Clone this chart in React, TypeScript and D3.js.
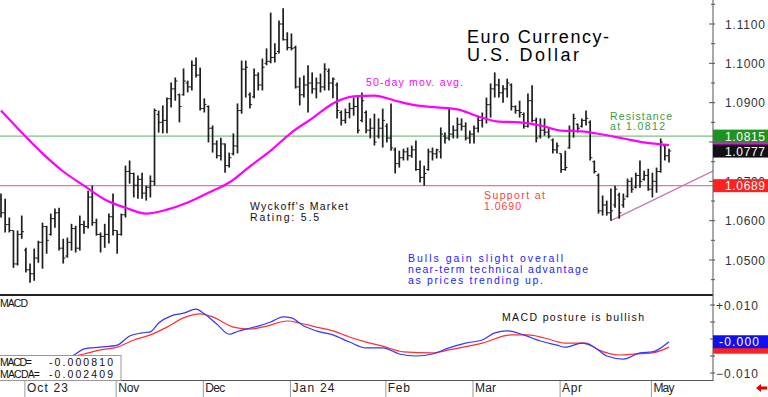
import React from "react";
import * as d3 from "d3";

// daily OHLC bars, Sep 2023 .. May 2024
const highs = [
  1.0669, 1.0656, 1.0608, 1.0575, 1.0575, 1.0613, 1.0531, 1.0491, 1.0529, 1.0549,
  1.0595, 1.0587, 1.0618, 1.0631, 1.0633, 1.0554, 1.0557, 1.0592, 1.0587, 1.0613,
  1.06, 1.0676, 1.0689, 1.0605, 1.057, 1.0592, 1.0618, 1.0669, 1.0575, 1.0618,
  1.074, 1.0753, 1.0722, 1.0715, 1.0722, 1.0689, 1.0715, 1.0885, 1.088, 1.0893,
  1.0913, 1.0951, 1.0964, 1.0923, 1.0987, 1.0956, 1.1007, 1.1015, 1.0989, 1.0911,
  1.0893, 1.0842, 1.0804, 1.0811, 1.0796, 1.0773, 1.0822, 1.0898, 1.1007, 1.1007,
  1.0926, 1.0987, 1.0977, 1.1012, 1.1038, 1.1129, 1.1051, 1.1109, 1.114, 1.1079,
  1.1076, 1.1045, 1.0964, 1.0969, 1.0995, 1.0977, 1.0964, 1.0974, 1.1, 1.0987,
  1.0964, 1.0951, 1.088, 1.0885, 1.09, 1.0913, 1.0918, 1.0926, 1.088, 1.086,
  1.0872, 1.086, 1.0885, 1.0847, 1.0898, 1.0786, 1.0778, 1.0783, 1.0786, 1.0791,
  1.0804, 1.0753, 1.074, 1.0783, 1.0786, 1.0783, 1.0837, 1.0824, 1.0888, 1.0842,
  1.0862, 1.086, 1.085, 1.0829, 1.0842, 1.0867, 1.0875, 1.0913, 1.0949, 1.0977,
  1.0961, 1.0944, 1.0961, 1.0949, 1.0893, 1.0905, 1.0875, 1.0923, 1.0944, 1.0862,
  1.086, 1.086, 1.0837, 1.0809, 1.0799, 1.0771, 1.0778, 1.0842, 1.0872, 1.0847,
  1.086, 1.088, 1.0855, 1.0753, 1.072, 1.0664, 1.0651, 1.0682, 1.0689, 1.0671,
  1.0669, 1.0707, 1.071, 1.0722, 1.0753, 1.0727, 1.0732, 1.0722, 1.0735, 1.0809,
  1.0791, 1.0783,
];
const lows = [
  1.0608, 1.057, 1.057, 1.048, 1.0486, 1.0554, 1.0468, 1.0442, 1.0447, 1.0493,
  1.0478, 1.0516, 1.0562, 1.0582, 1.0524, 1.0491, 1.0506, 1.0524, 1.0519, 1.0524,
  1.0567, 1.058, 1.0587, 1.0562, 1.0519, 1.0531, 1.0542, 1.0562, 1.0516, 1.0562,
  1.0608, 1.0694, 1.0659, 1.0656, 1.0656, 1.0651, 1.0659, 1.0689, 1.0824, 1.0822,
  1.0822, 1.0888, 1.0905, 1.085, 1.0918, 1.0926, 1.0931, 1.0964, 1.088, 1.0875,
  1.0799, 1.0773, 1.0758, 1.0753, 1.0722, 1.0735, 1.0766, 1.0771, 1.0872, 1.0913,
  1.0885, 1.0911, 1.0931, 1.0931, 1.0995, 1.1, 1.1002, 1.1025, 1.1058, 1.1033,
  1.1033, 1.0936, 1.0893, 1.0913, 1.0875, 1.0923, 1.0911, 1.0926, 1.0931, 1.0931,
  1.0911, 1.086, 1.0842, 1.0847, 1.086, 1.0867, 1.0822, 1.085, 1.0822, 1.0809,
  1.0791, 1.0809, 1.0786, 1.0799, 1.0778, 1.072, 1.0735, 1.0753, 1.0753, 1.076,
  1.0727, 1.0697, 1.0689, 1.0727, 1.0753, 1.0758, 1.0758, 1.0796, 1.0804, 1.0809,
  1.0809, 1.0829, 1.0804, 1.0796, 1.0796, 1.0824, 1.0837, 1.0847, 1.0862, 1.0913,
  1.0913, 1.09, 1.0913, 1.088, 1.0872, 1.0862, 1.0834, 1.0837, 1.085, 1.0799,
  1.0809, 1.0816, 1.0809, 1.0771, 1.0771, 1.0722, 1.0727, 1.0783, 1.0811, 1.0824,
  1.0837, 1.0842, 1.0753, 1.072, 1.0618, 1.0613, 1.0613, 1.06, 1.0633, 1.0605,
  1.0633, 1.0659, 1.0671, 1.0682, 1.0684, 1.0702, 1.0676, 1.0659, 1.0671, 1.0722,
  1.0753, 1.0748,
];
const opens = [
  1.0655, 1.062, 1.059, 1.0575, 1.049, 1.0565, 1.0525, 1.0475, 1.0465, 1.0505,
  1.0545, 1.0585, 1.0565, 1.0605, 1.062, 1.053, 1.051, 1.0545, 1.058, 1.053,
  1.059, 1.0585, 1.066, 1.0595, 1.0565, 1.056, 1.0565, 1.061, 1.0575, 1.0565,
  1.0615, 1.0725, 1.072, 1.069, 1.0705, 1.067, 1.0685, 1.07, 1.087, 1.085,
  1.0855, 1.091, 1.0935, 1.092, 1.092, 1.095, 1.094, 1.0995, 1.097, 1.0885,
  1.089, 1.0835, 1.0795, 1.0765, 1.0795, 1.074, 1.077, 1.079, 1.088, 1.0985,
  1.092, 1.0915, 1.097, 1.0945, 1.1, 1.1005, 1.1015, 1.103, 1.11, 1.106,
  1.104, 1.104, 1.094, 1.092, 1.0945, 1.095, 1.0935, 1.095, 1.094, 1.098,
  1.095, 1.0945, 1.0875, 1.0855, 1.0875, 1.0885, 1.089, 1.0855, 1.0875, 1.083,
  1.0835, 1.0815, 1.0835, 1.084, 1.081, 1.078, 1.0745, 1.076, 1.0775, 1.0765,
  1.078, 1.073, 1.071, 1.073, 1.0775, 1.077, 1.0775, 1.0815, 1.081, 1.082,
  1.083, 1.0845, 1.084, 1.081, 1.082, 1.0835, 1.0855, 1.086, 1.0895, 1.0935,
  1.0945, 1.0925, 1.0935, 1.0945, 1.089, 1.088, 1.087, 1.084, 1.0905, 1.0855,
  1.0815, 1.083, 1.0825, 1.0805, 1.078, 1.0771, 1.073, 1.0785, 1.083, 1.0845,
  1.084, 1.0855, 1.085, 1.075, 1.0715, 1.0625, 1.064, 1.062, 1.064, 1.0665,
  1.064, 1.0662, 1.07, 1.0685, 1.0715, 1.0705, 1.0715, 1.068, 1.07, 1.0725,
  1.079, 1.0765,
];
const closes = [
  1.062, 1.059, 1.0575, 1.049, 1.0565, 1.0572, 1.0475, 1.0465, 1.0505, 1.0545,
  1.0585, 1.055, 1.0605, 1.062, 1.053, 1.0505, 1.0545, 1.058, 1.053, 1.059,
  1.0585, 1.066, 1.0595, 1.0565, 1.056, 1.0565, 1.061, 1.0575, 1.0565, 1.0615,
  1.0725, 1.072, 1.069, 1.0705, 1.067, 1.0685, 1.07, 1.088, 1.085, 1.0855,
  1.091, 1.0935, 1.0955, 1.089, 1.0955, 1.094, 1.0995, 1.097, 1.0885, 1.0895,
  1.0835, 1.0795, 1.0765, 1.0795, 1.074, 1.076, 1.079, 1.088, 1.0985, 1.099,
  1.0895, 1.097, 1.0945, 1.099, 1.1005, 1.1015, 1.1025, 1.11, 1.106, 1.104,
  1.1038, 1.094, 1.092, 1.0945, 1.095, 1.0935, 1.095, 1.094, 1.0985, 1.095,
  1.096, 1.088, 1.0855, 1.0875, 1.0885, 1.089, 1.083, 1.0905, 1.083, 1.0835,
  1.08, 1.0835, 1.0855, 1.081, 1.0785, 1.0745, 1.076, 1.0775, 1.0765, 1.078,
  1.073, 1.071, 1.072, 1.0775, 1.077, 1.078, 1.082, 1.081, 1.082, 1.083,
  1.0845, 1.084, 1.081, 1.082, 1.0835, 1.0855, 1.086, 1.0895, 1.0935, 1.0945,
  1.0925, 1.0935, 1.095, 1.089, 1.088, 1.0875, 1.084, 1.0905, 1.0855, 1.081,
  1.083, 1.0825, 1.0815, 1.078, 1.079, 1.073, 1.0735, 1.083, 1.086, 1.0835,
  1.0855, 1.086, 1.076, 1.0725, 1.0625, 1.064, 1.062, 1.0625, 1.068, 1.062,
  1.0655, 1.07, 1.068, 1.0715, 1.07, 1.0715, 1.068, 1.07, 1.0725, 1.08,
  1.0765, 1.0777,
];

// 50-day moving average read at bar positions
const maIdx = [0, 5, 10, 15, 20, 25, 30, 35, 40, 45, 50, 55, 60, 65, 70, 75, 80, 85, 90, 95, 100, 105, 110, 115, 120, 125, 130, 135, 140, 145, 150, 155, 161];
const maVals = [1.088, 1.0824, 1.0771, 1.0725, 1.0689, 1.0654, 1.0633, 1.0618, 1.0628, 1.0646, 1.0671, 1.0697, 1.0738, 1.0778, 1.0824, 1.086, 1.0898, 1.0916, 1.0918, 1.0905, 1.0893, 1.0888, 1.0883, 1.0865, 1.0852, 1.085, 1.0842, 1.0829, 1.0827, 1.0819, 1.0809, 1.0799, 1.0792];

// MACD (blue) and its average (red)
const macdIdx = [12, 16, 18, 20, 24, 28, 31, 34, 36, 38, 41, 44, 47, 49, 52, 55, 57, 59, 62, 65, 68, 70, 73, 76, 80, 84, 88, 92, 96, 100, 104, 108, 112, 116, 119, 122, 126, 130, 134, 136, 140, 143, 146, 150, 154, 157, 161];
const macdVals = [-0.0076, -0.0056, -0.0044, -0.0029, -0.0024, -0.0018, 0.0009, 0.0018, 0.0021, 0.0047, 0.0068, 0.0076, 0.0088, 0.0074, 0.0044, 0.0014, 0.0022, 0.0029, 0.0038, 0.005, 0.0065, 0.0062, 0.0038, 0.0024, 0.0012, -0.0009, -0.0026, -0.0026, -0.0044, -0.005, -0.0044, -0.0026, -0.0012, -0.0003, 0.0018, 0.0024, 0.0012, -0.0006, -0.0018, -0.0024, -0.0012, -0.0024, -0.005, -0.0059, -0.0041, -0.0038, -0.0008];
const sigIdx = [12, 16, 20, 24, 28, 32, 36, 40, 44, 48, 51, 56, 60, 64, 69, 72, 76, 80, 84, 88, 92, 97, 104, 108, 116, 123, 127, 131, 136, 141, 144, 149, 153, 157, 161];
const sigVals = [-0.0068, -0.0056, -0.0044, -0.0032, -0.0024, -0.0003, 0.0012, 0.0035, 0.0062, 0.0074, 0.0065, 0.0035, 0.0029, 0.0038, 0.0053, 0.0047, 0.0035, 0.0024, 0.0006, -0.0009, -0.0021, -0.0038, -0.0041, -0.0032, -0.0012, 0.0012, 0.0012, 0.0003, -0.0012, -0.0012, -0.0032, -0.0047, -0.0044, -0.0041, -0.0024];

const trendIdx = [147, 172.3];
const trendVals = [1.06, 1.073];

const priceTicks = [1.05, 1.06, 1.07, 1.08, 1.09, 1.1, 1.11];
const macdTicks = [-0.01, -0.005, 0, 0.005, 0.01];
const monthLabels = ["Oct 23", "Nov", "Dec", "Jan 24", "Feb", "Mar", "Apr", "May"];
const monthIdx = [6, 28, 49, 70, 93, 114, 135, 157];
const monthWidths = [41, 21, 20, 42, 22, 21, 20, 21];

const resistance = 1.0815;
const support = 1.0689;
const lastClose = 1.0777;
const lastMa = 1.0792;
const lastMacd = -0.00081;
const lastSig = -0.002409;

const FONT = "'Liberation Sans', Arial, sans-serif";

export default function App() {
  const right = 713;
  const x = d3.scaleLinear().domain([0, 161]).range([1, 669]);
  const y = d3.scaleLinear().domain([1.05, 1.11]).range([260, 24]);
  const ym = d3.scaleLinear().domain([-0.01, 0.01]).range([373, 305]);

  const maLine = d3.line<number>()
    .x((_, k) => x(maIdx[k]))
    .y((v) => y(v))
    .curve(d3.curveMonotoneX);
  const macdLine = d3.line<number>()
    .x((_, k) => x(macdIdx[k]))
    .y((v) => ym(v))
    .curve(d3.curveMonotoneX);
  const sigLine = d3.line<number>()
    .x((_, k) => x(sigIdx[k]))
    .y((v) => ym(v))
    .curve(d3.curveMonotoneX);

  const txt = (s: string, tx: number, ty: number, len: number, size: number, fill: string, key?: string) => (
    <text key={key} x={tx} y={ty} fontSize={size} fill={fill} textLength={len} lengthAdjust="spacing" fontFamily={FONT}>
      {s}
    </text>
  );

  // coloured value boxes on the right axis
  const box = (v: number, scale: (n: number) => number, bg: string, label: string | null, key: string) => (
    <g key={key}>
      <rect x={right} y={scale(v) - 6.5} width={768 - right} height={13} fill={bg} />
      {label && (
        <text x={label.startsWith("-") ? 719 : 725} y={scale(v) + 4.5} fontSize={12} fill="#fff" fontFamily={FONT}
          textLength={label.startsWith("-") ? 40 : 40} lengthAdjust="spacing">{label}</text>
      )}
    </g>
  );

  return (
    <svg width={768} height={397} style={{ position: "absolute", left: 0, top: 0, background: "#fff" }}>
      <defs>
        <clipPath id="pricePanel"><rect x={0} y={0} width={right} height={294} /></clipPath>
        <clipPath id="macdPanel"><rect x={0} y={297} width={right} height={83} /></clipPath>
      </defs>

      {/* price panel */}
      <g clipPath="url(#pricePanel)">
        <line x1={0} x2={right} y1={y(resistance)} y2={y(resistance)} stroke="#7cc47c" strokeWidth={1.2} />
        <line x1={0} x2={right} y1={y(support)} y2={y(support)} stroke="#f07878" strokeWidth={1.2} />
        <path
          d={`M${x(trendIdx[0])},${y(trendVals[0])}L${x(trendIdx[1])},${y(trendVals[1])}`}
          stroke="#c878b0" strokeWidth={1.3} fill="none"
        />
        {highs.map((h, i) => (
          <g key={i} stroke="#1e1e1e">
            <line x1={x(i)} x2={x(i)} y1={y(h)} y2={y(lows[i])} strokeWidth={1.7} />
            <line x1={x(i) - 2} x2={x(i)} y1={y(opens[i])} y2={y(opens[i])} strokeWidth={1} />
            <line x1={x(i)} x2={x(i) + 2.2} y1={y(closes[i])} y2={y(closes[i])} strokeWidth={1} />
          </g>
        ))}
        <path d={maLine(maVals) || ""} stroke="#ff00ff" strokeWidth={2.2} fill="none" />
      </g>

      {/* annotations */}
      {txt("Euro Currency-", 467, 43, 142, 18, "#000")}
      {txt("U.S. Dollar", 467, 61, 112, 18, "#000")}
      {txt("50-day mov. avg.", 366, 86, 97, 10.5, "#ff00ff")}
      {txt("Resistance", 610, 120, 62, 10.5, "#3c9a3c")}
      {txt("at 1.0812", 610, 130, 55, 10.5, "#3c9a3c")}
      {txt("Support at", 484, 199, 61, 10.5, "#ff3c3c")}
      {txt("1.0690", 484, 210, 37, 10.5, "#ff3c3c")}
      {txt("Wyckoff's Market", 250, 210, 98, 10.5, "#111")}
      {txt("Rating: 5.5", 250, 221, 69, 10.5, "#111")}
      {txt("Bulls gain slight overall", 408, 262, 155, 10.5, "#2222ff")}
      {txt("near-term technical advantage", 408, 273, 180, 10.5, "#2222ff")}
      {txt("as prices trending up.", 408, 284, 135, 10.5, "#2222ff")}

      {/* panel separators */}
      <line x1={0} x2={right} y1={295} y2={295} stroke="#222" strokeWidth={2} />
      <line x1={0} x2={right} y1={380.5} y2={380.5} stroke="#555" strokeWidth={1} />
      <line x1={right} x2={right} y1={0} y2={381} stroke="#555" strokeWidth={1} />

      {/* MACD panel */}
      <g clipPath="url(#macdPanel)">
        <path d={sigLine(sigVals) || ""} stroke="#ff3030" strokeWidth={1.2} fill="none" />
        <path d={macdLine(macdVals) || ""} stroke="#3535ff" strokeWidth={1.2} fill="none" />
      </g>
      {txt("MACD", 0, 307, 28, 10.5, "#111")}
      {txt("MACD posture is bullish", 502, 321, 142, 10.5, "#111")}
      <rect x={-1} y={355.5} width={122} height={25} fill="#fff" stroke="#999" strokeWidth={1} />
      {txt("MACD=", 0, 366, 32, 10.5, "#111")}
      {txt("-0.000810", 49, 366, 64, 10.5, "#111")}
      {txt("MACDA=", 0, 377.5, 40, 10.5, "#111")}
      {txt("-0.002409", 49, 377.5, 64, 10.5, "#111")}

      {/* right price axis */}
      {d3.range(1.045, 1.1151, 0.005).map((t, k) => (
        <line key={"pt" + k} x1={k % 2 ? right - 4 : right - 2} x2={right + 2} y1={y(t)} y2={y(t)} stroke="#555" />
      ))}
      {priceTicks.filter((t) => t !== 1.08).map((t) => (
        <text key={"pl" + t} x={725} y={y(t) + 4.5} fontSize={12} fill="#333" fontFamily={FONT}
          textLength={40} lengthAdjust="spacing">
          {d3.format(".4f")(t)}
        </text>
      ))}
      {box(lastMa, y, "#ff00ff", null, "ma")}
      {box(resistance, y, "#1f931f", d3.format(".4f")(resistance), "res")}
      {box(lastClose, y, "#111", d3.format(".4f")(lastClose), "close")}
      {box(support, y, "#ff2020", d3.format(".4f")(support), "sup")}

      {/* right MACD axis */}
      {macdTicks.map((t) => (
        <line key={"mt" + t} x1={right - 3} x2={right + 2} y1={ym(t)} y2={ym(t)} stroke="#555" />
      ))}
      {[0.01, -0.01].map((t) => (
        <text key={"ml" + t} x={716} y={ym(t) + 4.5} fontSize={12} fill="#333" fontFamily={FONT}
          textLength={42} lengthAdjust="spacing">
          {(t > 0 ? "+" : "") + d3.format(".3f")(t)}
        </text>
      ))}
      {box(lastSig, ym, "#ff2020", null, "sig")}
      {box(lastMacd, ym, "#1010ee", "-0.000", "macd")}

      {/* date axis */}
      {monthIdx.map((m, k) => (
        <g key={"m" + k}>
          <line x1={x(m) - 1} x2={x(m) - 1} y1={381} y2={397} stroke="#999" />
          {txt(monthLabels[k], x(m) + 1, 392, monthWidths[k], 12, "#222")}
        </g>
      ))}
      <path d="M756,388 L761,384 L761,386.5 L767,386.5 L767,389.5 L761,389.5 L761,392 Z" fill="#e00000" />
    </svg>
  );
}
